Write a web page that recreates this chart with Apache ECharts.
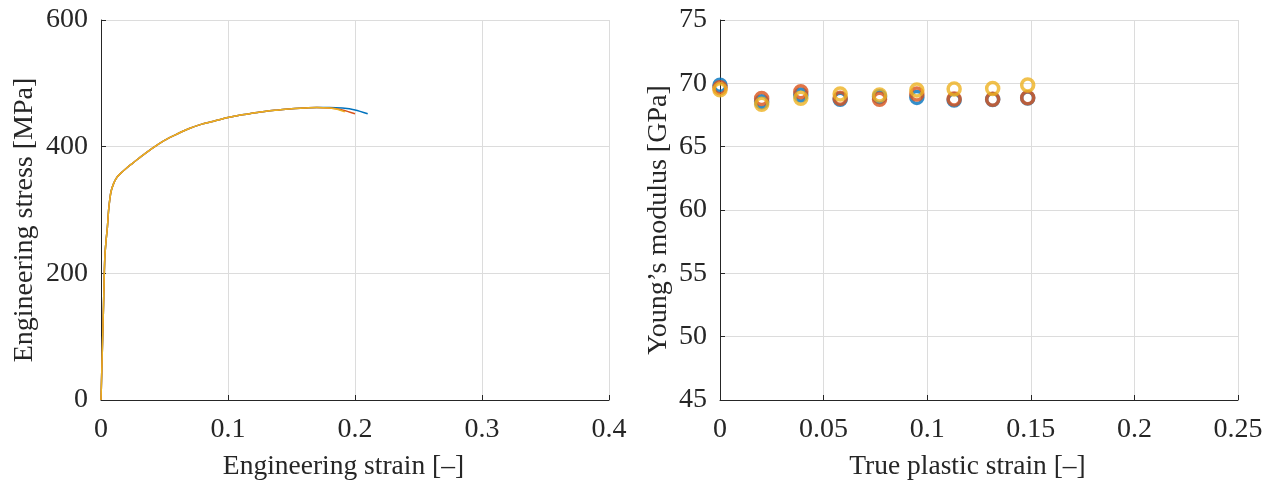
<!DOCTYPE html>
<html>
<head>
<meta charset="utf-8">
<script src="https://cdn.jsdelivr.net/npm/echarts@6/dist/echarts.min.js"></script>
<style>html,body{margin:0;padding:0;background:#fff}#c{width:1278px;height:486px}</style>
</head>
<body>
<div id="c"></div>
<script>
// Left panel: engineering stress-strain curves
const strainBlue = [0,0.001,0.002,0.003,0.004,0.005,0.006,0.007,0.008,0.01,0.012,0.015,0.02,0.025,0.03,0.04,0.05,0.06,0.07,0.08,0.09,0.1,0.11,0.12,0.13,0.14,0.15,0.16,0.17,0.18,0.19,0.2,0.21];
const stressBlue = [0,75,150,225,252,272,300,318,330,342,350,357,366,374,382,397,410,420,429,436,441,446,450,453,456,458,460,461,462,462,461,458,452];
const strainRed = [0,0.001,0.002,0.003,0.004,0.005,0.006,0.007,0.008,0.01,0.012,0.015,0.02,0.025,0.03,0.04,0.05,0.06,0.07,0.08,0.09,0.1,0.11,0.12,0.13,0.14,0.15,0.16,0.17,0.18,0.19,0.2];
const stressRed = [0,75,150,225,252,272,300,318,330,342,350,357,366,374,382,397,410,420,429,436,441,446,450,453,456,458,460,461,462,461,458,452];
const strainYellow = [0,0.001,0.002,0.003,0.004,0.005,0.006,0.007,0.008,0.01,0.012,0.015,0.02,0.025,0.03,0.04,0.05,0.06,0.07,0.08,0.09,0.1,0.11,0.12,0.13,0.14,0.15,0.16,0.17,0.18,0.186,0.192];
const stressYellow = [0,75,150,225,252,272,300,318,330,342,350,357,366,374,382,397,410,420,429,436,441,446,450,453,456,458,460,461,462,461,459,455];

// Right panel: Young's modulus vs true plastic strain
const plasticStrain = [0,0.0201,0.039,0.058,0.077,0.095,0.113,0.1316,0.1485];
const modulusBlue   = [69.85,68.55,69.08,68.74,68.95,68.89,68.68,68.72,68.85];
const modulusRed    = [69.65,68.80,69.34,68.82,68.74,69.16,68.76,68.74,68.87];
const modulusYellow = [69.50,68.34,68.82,69.16,69.08,69.47,69.55,69.60,69.87];

const leftXTicks = [0,0.1,0.2,0.3,0.4];
const leftYTicks = [0,200,400,600];
const rightXTicks = [0,0.05,0.1,0.15,0.2,0.25];
const rightYTicks = [45,50,55,60,65,70,75];

const C_BLUE = '#0072BD', C_RED = '#D95319', C_YEL = '#EDB120';
const FONT = '"Liberation Serif", "DejaVu Serif", serif';
const FS = 28;

function pairs(xs, ys){ return xs.map((x,i)=>[x, ys[i]]); }

function axisCommon(extra){
  return Object.assign({
    axisLine:{show:true,onZero:false,lineStyle:{color:'#262626',width:1}},
    axisTick:{show:true,inside:true,length:5,lineStyle:{color:'#262626'}},
    splitLine:{show:true,lineStyle:{color:'#dcdcdc',width:1}},
    nameLocation:'middle'
  }, extra);
}
const xName = {color:'#262626',fontFamily:FONT,fontSize:27.5,padding:[0,23,0,0]};
const yName = {color:'#262626',fontFamily:FONT,fontSize:FS,padding:[0,20,0,0]};
const xLabel = {color:'#262626',fontFamily:FONT,fontSize:FS,margin:16,formatter:v=>String(+v.toFixed(2))};
const yLabel = {color:'#262626',fontFamily:FONT,fontSize:FS,margin:13};

const chart = echarts.init(document.getElementById('c'), null, {renderer:'canvas'});
const ring = (c)=>({color:'rgba(0,0,0,0)',borderColor:c,borderWidth:3.5});
chart.setOption({
  animation:false,
  backgroundColor:'#fff',
  grid:[
    {left:101,top:20,width:508,height:380},
    {left:720,top:20,width:518,height:380}
  ],
  xAxis:[
    axisCommon({type:'value',gridIndex:0,min:0,max:0.4,interval:0.1,name:'Engineering strain [–]',nameGap:53,nameTextStyle:xName,axisLabel:xLabel}),
    axisCommon({type:'value',gridIndex:1,min:0,max:0.25,interval:0.05,name:'True plastic strain [–]',nameGap:53,nameTextStyle:xName,axisLabel:xLabel})
  ],
  yAxis:[
    axisCommon({type:'value',gridIndex:0,min:0,max:600,interval:200,name:'Engineering stress [MPa]',nameGap:62,nameTextStyle:yName,axisLabel:yLabel}),
    axisCommon({type:'value',gridIndex:1,min:45,max:75,interval:5,name:'Young’s modulus [GPa]',nameGap:47,nameTextStyle:yName,axisLabel:yLabel})
  ],
  series:[
    {type:'line',xAxisIndex:0,yAxisIndex:0,data:pairs(strainBlue,stressBlue),showSymbol:false,smooth:0.3,lineStyle:{color:C_BLUE,width:1.5}},
    {type:'line',xAxisIndex:0,yAxisIndex:0,data:pairs(strainRed,stressRed),showSymbol:false,smooth:0.3,lineStyle:{color:C_RED,width:1.5}},
    {type:'line',xAxisIndex:0,yAxisIndex:0,data:pairs(strainYellow,stressYellow),showSymbol:false,smooth:0.3,lineStyle:{color:C_YEL,width:1.5}},
    {type:'scatter',xAxisIndex:1,yAxisIndex:1,data:pairs(plasticStrain,modulusBlue),symbol:'circle',symbolSize:12,itemStyle:ring(C_BLUE)},
    {type:'scatter',xAxisIndex:1,yAxisIndex:1,data:pairs(plasticStrain,modulusRed),symbol:'circle',symbolSize:12,itemStyle:ring(C_RED)},
    {type:'scatter',xAxisIndex:1,yAxisIndex:1,data:pairs(plasticStrain,modulusYellow),symbol:'circle',symbolSize:12,itemStyle:ring(C_YEL)}
  ]
});
</script>
</body>
</html>
